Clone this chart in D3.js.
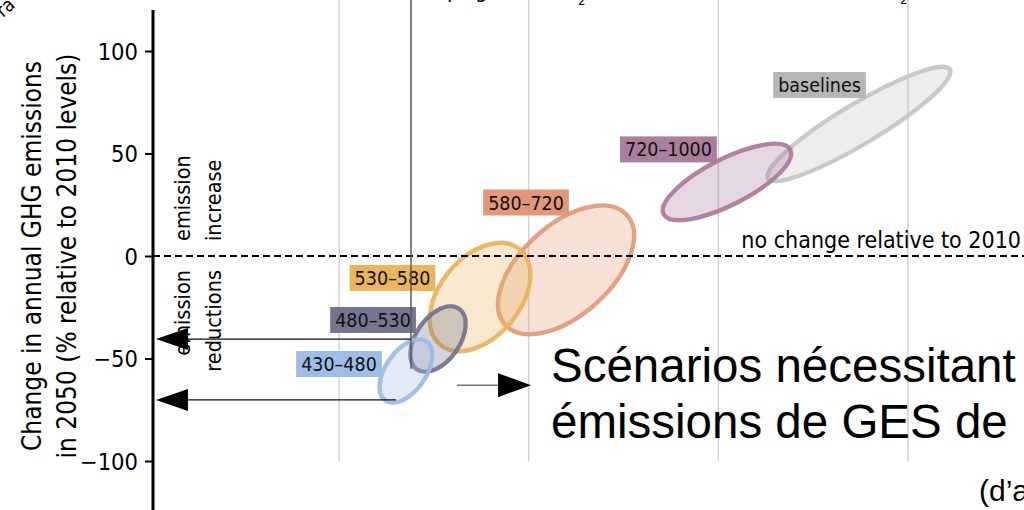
<!DOCTYPE html>
<html><head><meta charset="utf-8">
<script src="https://cdn.jsdelivr.net/npm/d3@7"></script>
<style>
html,body{margin:0;padding:0;background:#fff;overflow:hidden}
svg{display:block}
.cond{font-family:"DejaVu Sans Condensed","DejaVu Sans",sans-serif;font-stretch:condensed}
.arial{font-family:"Liberation Sans",Arial,sans-serif}
</style></head><body>
<svg id="c" width="1024" height="510"></svg>
<script>
// ---- data ----
const yTicks = [100, 50, 0, -50, -100];
const xGrid = [2000, 4000, 6000, 8000];          // cumulative CO2 gridlines (GtCO2)
const categories = ["baselines", "720–1000", "580–720", "530–580", "480–530", "430–480"];
const centerX = [7483, 6091, 4394, 3487, 3044, 2706];
const centerY = [64.4, 36.1, -6.8, -20.0, -40.5, -56.1];
const tipX    = [8442, 6759, 5036, 3908, 3267, 2924];   // end of major axis
const tipY    = [91.0, 51.8, 20.0, 3.2, -25.7, -41.7];
const axisRatio = [0.19, 0.324, 0.55, 0.645, 0.59, 0.56]; // minor / major
const labelX  = [7067, 5474, 3972, 2564, 2359, 2000];
const labelY  = [83.4, 52.0, 26.1, -10.7, -31.2, -52.7];
const markerX = 2759, markerBottom = -55;
const leftArrowsFrom = [[2759, -40.5], [2601, -70.2]];
const rightArrow = [[3244, -63], [4025, -63]];
const noChangeLabel = "no change relative to 2010";
const yTitle = ["Change in annual GHG emissions", "in 2050 (% relative to 2010 levels)"];
const frTitle = ["Scénarios nécessitant", "émissions de GES de"];
const frSource = "(d’après GIEC)";

// ---- styles ----
const palette = {
  "baselines": {stroke:"#c4c4c4", box:"#b6b6b6"},
  "720–1000": {stroke:"#a9799b", box:"#ac7e9e"},
  "580–720": {stroke:"#e39877", box:"#e3977a"},
  "530–580": {stroke:"#e9b258", box:"#ebb55e"},
  "480–530": {stroke:"#72728e", box:"#75758f"},
  "430–480": {stroke:"#9bbbe2", box:"#9dbde6"}
};

const svg = d3.select("#c");
const W = 1024, H = 510;
const x = d3.scaleLinear().domain([2000, 8000]).range([339, 908]);
const y = d3.scaleLinear().domain([-100, 100]).range([461, 51]);
const axisX = 153;

// gridlines
svg.append("g").selectAll("line").data(xGrid).join("line")
  .attr("x1", d => x(d)).attr("x2", d => x(d))
  .attr("y1", 0).attr("y2", y(-100))
  .attr("stroke", "#d2d2d2").attr("stroke-width", 1.5);

// ellipses
const ell = categories.map((c, i) => {
  const cx = x(centerX[i]), cy = y(centerY[i]);
  const tx = x(tipX[i]), ty = y(tipY[i]);
  const a = Math.hypot(tx - cx, ty - cy);
  return {c, cx, cy, a, b: a * axisRatio[i], ang: Math.atan2(ty - cy, tx - cx) * 180 / Math.PI,
          lx: x(labelX[i]), ly: y(labelY[i])};
});
svg.append("g").selectAll("ellipse").data(ell).join("ellipse")
  .attr("cx", d => d.cx).attr("cy", d => d.cy)
  .attr("rx", d => d.a).attr("ry", d => d.b)
  .attr("transform", d => `rotate(${d.ang},${d.cx},${d.cy})`)
  .attr("fill", d => palette[d.c].stroke).attr("fill-opacity", 0.3)
  .attr("stroke", d => palette[d.c].stroke).attr("stroke-opacity", 0.92)
  .attr("stroke-width", 4.3);

// labels
const lg = svg.append("g");
ell.forEach(d => {
  const g = lg.append("g");
  const r = g.append("rect");
  const t = g.append("text").attr("class", "cond")
    .attr("x", d.lx).attr("y", d.ly).attr("dy", "0.36em")
    .attr("text-anchor", "middle").attr("font-size", 19.5).attr("fill", "#111").text(d.c);
  const bb = t.node().getBBox();
  r.attr("x", bb.x - 5).attr("y", d.ly - 13).attr("width", bb.width + 10).attr("height", 26)
   .attr("fill", palette[d.c].box);
});

// dashed zero line
svg.append("line").attr("x1", axisX).attr("x2", W).attr("y1", y(0)).attr("y2", y(0))
  .attr("stroke", "#000").attr("stroke-width", 2).attr("stroke-dasharray", "7,4");
svg.append("text").attr("class", "cond").attr("x", 1021).attr("y", y(0) - 8)
  .attr("text-anchor", "end").attr("font-size", 23).text(noChangeLabel);

// vertical marker
svg.append("line").attr("x1", x(markerX)).attr("x2", x(markerX))
  .attr("y1", 0).attr("y2", y(markerBottom)).attr("stroke", "#5a5a5a").attr("stroke-width", 1.5);

// left arrows
leftArrowsFrom.forEach(p => {
  const yy = y(p[1]);
  svg.append("line").attr("x1", x(p[0])).attr("x2", axisX + 20).attr("y1", yy).attr("y2", yy)
    .attr("stroke", "#111").attr("stroke-width", 1.3);
  svg.append("path").attr("d", `M${axisX + 3},${yy} L${axisX + 35},${yy - 11} L${axisX + 35},${yy + 11} Z`)
    .attr("fill", "#000");
});
// right arrow
{
  const yy = y(rightArrow[0][1]), x0 = x(rightArrow[0][0]), x1 = x(rightArrow[1][0]);
  svg.append("line").attr("x1", x0).attr("x2", x1 - 20).attr("y1", yy).attr("y2", yy)
    .attr("stroke", "#777").attr("stroke-width", 1.5);
  svg.append("path").attr("d", `M${x1},${yy} L${x1 - 33},${yy - 12} L${x1 - 33},${yy + 12} Z`).attr("fill", "#000");
}

// y axis
const yAxis = d3.axisLeft(y).tickValues(yTicks).tickSize(8).tickPadding(7);
const ga = svg.append("g").attr("transform", `translate(${axisX},0)`).call(yAxis);
ga.select(".domain").remove();
ga.selectAll(".tick line").attr("stroke", "#000").attr("stroke-width", 2);
ga.selectAll(".tick text").attr("class", "cond").attr("font-size", 23.5).attr("fill", "#000").attr("dy", "0.36em");
svg.append("line").attr("x1", axisX).attr("x2", axisX).attr("y1", 10).attr("y2", H)
  .attr("stroke", "#000").attr("stroke-width", 3);

// y title
yTitle.forEach((s, i) => {
  svg.append("text").attr("class", "cond").attr("font-size", 26)
    .attr("transform", `translate(${[41, 76][i]},${y(0)}) rotate(-90)`)
    .attr("text-anchor", "middle").text(s);
});

// emission increase / reductions
[["emission", 190, "start", 241], ["increase", 221, "start", 241],
 ["emission", 190, "end", 270], ["reductions", 221, "end", 270]].forEach(t => {
  svg.append("text").attr("class", "cond").attr("font-size", 21.5)
    .attr("transform", `translate(${t[1]},${t[3]}) rotate(-90)`)
    .attr("text-anchor", t[2]).text(t[0]);
});

// French overlay
frTitle.forEach((s, i) => {
  svg.append("text").attr("class", "arial").attr("x", 551).attr("y", [382, 438][i])
    .attr("font-size", 47.5).attr("fill", "#000").text(s);
});
svg.append("text").attr("class", "arial").attr("x", 979).attr("y", 501).attr("font-size", 30).text(frSource);

// cut-off fragments at the top (cropped in the reference)
svg.append("text").attr("class", "cond").attr("x", 578).attr("y", 5).attr("font-size", 13).text("2");
svg.append("text").attr("class", "cond").attr("x", 900).attr("y", 4).attr("font-size", 13).text("2");
svg.append("text").attr("class", "cond").attr("x", 447).attr("y", -2).attr("font-size", 22).text("p");
svg.append("text").attr("class", "cond").attr("x", 475).attr("y", -2).attr("font-size", 22).text("g");
svg.append("text").attr("class", "cond").attr("font-size", 19)
  .attr("transform", "translate(3,18) rotate(-42)").text("ra");
</script>
</body></html>
